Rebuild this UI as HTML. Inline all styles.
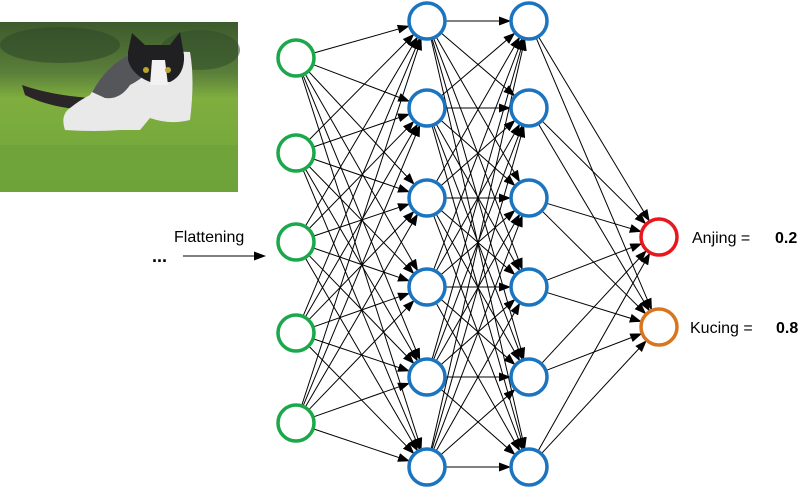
<!DOCTYPE html>
<html><head><meta charset="utf-8"><style>
html,body{margin:0;padding:0;background:#fff;}
body{width:803px;height:492px;position:relative;overflow:hidden;font-family:"Liberation Sans",Arial,sans-serif;}
</style></head><body>
<svg id="s" width="803" height="492" xmlns="http://www.w3.org/2000/svg" style="position:absolute;left:0;top:0">
<defs>
<linearGradient id="bg" x1="0" y1="0" x2="0" y2="1">
<stop offset="0" stop-color="#3c5a2c"/><stop offset="0.3" stop-color="#5b7f3a"/><stop offset="0.45" stop-color="#7fae3e"/><stop offset="1" stop-color="#6ea53a"/>
</linearGradient>
<marker id="ah" markerWidth="12" markerHeight="9" refX="11" refY="4.5" orient="auto" markerUnits="userSpaceOnUse"><path d="M0,0 L12,4.5 L0,9 z" fill="#000"/></marker>
</defs>
<rect x="0" y="22" width="238" height="170" fill="url(#bg)"/>
<ellipse cx="60" cy="45" rx="60" ry="18" fill="#2f4a2a" opacity="0.6"/>
<ellipse cx="200" cy="50" rx="40" ry="20" fill="#34502c" opacity="0.6"/>
<path d="M22,85 Q50,95 90,98 L88,110 Q50,108 25,95 z" fill="#2a2526"/>
<path d="M90,95 Q110,60 140,50 L190,52 Q195,80 190,120 Q170,125 150,118 L140,130 L120,130 Q95,132 65,130 Q60,115 70,108 Q80,100 90,95 z" fill="#e9e9ea"/>
<path d="M92,92 Q110,60 140,50 L160,55 Q150,75 130,85 Q120,100 105,98 z" fill="#555659"/>
<path d="M128,52 L132,33 L145,45 L170,45 L180,32 L184,55 Q185,75 170,82 L150,82 Q132,75 128,60 z" fill="#202022"/>
<path d="M152,60 L165,60 L168,85 L150,85 z" fill="#f2f2f2"/>
<circle cx="146" cy="70" r="3" fill="#b7a530"/><circle cx="168" cy="70" r="3" fill="#b7a530"/>
<rect x="0" y="145" width="238" height="47" fill="#6ea33a" opacity="0.7"/>
<text x="174" y="242" font-size="16" fill="#000">Flattening</text>
<text x="152" y="262" font-size="18" font-weight="bold" fill="#000">...</text>
<line x1="183" y1="256" x2="265" y2="256" stroke="#000" stroke-width="1" marker-end="url(#ah)"/>
<g id="lines"></g>
<g id="nodes"></g>
<text x="692" y="243" font-size="16" fill="#000">Anjing =</text>
<text x="775" y="243" font-size="16" font-weight="bold" fill="#000">0.2</text>
<text x="690" y="333" font-size="16" fill="#000">Kucing =</text>
<text x="776" y="333" font-size="16" font-weight="bold" fill="#000">0.8</text>
</svg>
<script>
var NS="http://www.w3.org/2000/svg";
var r=18;
var L0=[58,153,242,333,423].map(function(y){return [296,y];});
var ys=[21,108,198,287,377,467];
var L1=ys.map(function(y){return [427,y];});
var L2=ys.map(function(y){return [529,y];});
var L3=[[659,237],[659,327]];
var lg=document.getElementById("lines"),ng=document.getElementById("nodes");
function conn(A,B){A.forEach(function(a){B.forEach(function(b){
var dx=b[0]-a[0],dy=b[1]-a[1],d=Math.sqrt(dx*dx+dy*dy);
var l=document.createElementNS(NS,"line");
l.setAttribute("x1",a[0]+dx/d*r);l.setAttribute("y1",a[1]+dy/d*r);
l.setAttribute("x2",b[0]-dx/d*(r+1));l.setAttribute("y2",b[1]-dy/d*(r+1));
l.setAttribute("stroke","#000");l.setAttribute("stroke-width","1");l.setAttribute("marker-end","url(#ah)");
lg.appendChild(l);});});}
conn(L0,L1);conn(L1,L2);conn(L2,L3);
function nodes(A,c){A.forEach(function(a,i){var e=document.createElementNS(NS,"circle");
e.setAttribute("cx",a[0]);e.setAttribute("cy",a[1]);e.setAttribute("r",r);
e.setAttribute("fill","#fff");e.setAttribute("stroke",Array.isArray(c)?c[i]:c);e.setAttribute("stroke-width","3.5");ng.appendChild(e);});}
nodes(L0,"#1aa84a");nodes(L1,"#1a74c0");nodes(L2,"#1a74c0");nodes(L3,["#e8171d","#d8761f"]);
</script>
</body></html>
